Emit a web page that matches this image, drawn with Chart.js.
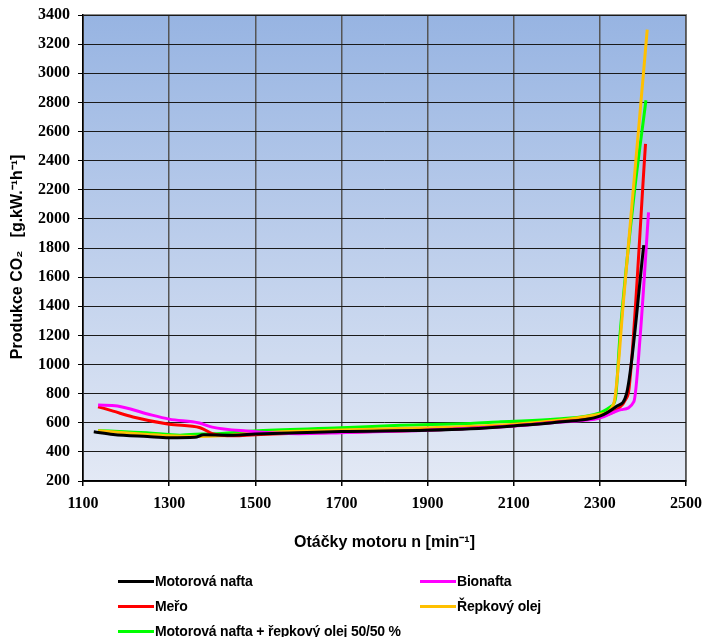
<!DOCTYPE html>
<html>
<head>
<meta charset="utf-8">
<script src="https://cdn.jsdelivr.net/npm/chart.js@4/dist/chart.umd.min.js"></script>
<style>
  html, body { margin: 0; padding: 0; background: #fff; }
  #wrap { position: relative; width: 704px; height: 637px; }
  .leg { position: absolute; font: bold 14px "Liberation Sans", Arial, sans-serif; color: #000;
         letter-spacing: -0.2px; white-space: nowrap; line-height: 16px; }
  .leg i { display: inline-block; width: 36px; height: 3px; vertical-align: middle; margin-right: 1px; margin-top: -2px; }
</style>
</head>
<body>
<div id="wrap">
  <canvas id="c" width="704" height="637"></canvas>
  <div class="leg" style="left:118px; top:573px"><i style="background:#000000"></i>Motorová nafta</div>
  <div class="leg" style="left:420px; top:573px"><i style="background:#ff00ff"></i>Bionafta</div>
  <div class="leg" style="left:118px; top:598px"><i style="background:#ff0000"></i>Meřo</div>
  <div class="leg" style="left:420px; top:598px"><i style="background:#ffc000"></i>Řepkový olej</div>
  <div class="leg" style="left:118px; top:623px"><i style="background:#00ff00"></i>Motorová nafta + řepkový olej 50/50 %</div>
</div>
<script>
// engine speed [min-1] and CO2 production [g/kWh] per fuel
const naftaX = [1125, 1170, 1250, 1300, 1360, 1380, 1450, 1500, 1700, 1900, 2000, 2100, 2200, 2300, 2340, 2362, 2402];
const naftaY = [538, 520, 505, 497, 500, 518, 515, 522, 540, 548, 558, 578, 603, 645, 715, 800, 1820];

const bioX = [1135, 1180, 1250, 1300, 1370, 1400, 1480, 1600, 1700, 1900, 2100, 2200, 2300, 2350, 2379, 2394, 2413];
const bioY = [722, 715, 660, 625, 598, 570, 543, 525, 532, 548, 578, 603, 632, 690, 745, 1210, 2045];

const meroX = [1135, 1170, 1216, 1300, 1372, 1402, 1450, 1500, 1700, 1900, 2100, 2200, 2300, 2340, 2360, 2368, 2406];
const meroY = [710, 680, 640, 590, 566, 524, 510, 518, 535, 550, 580, 605, 640, 690, 760, 840, 2515];

const repkaX = [1135, 1250, 1300, 1370, 1420, 1500, 1700, 1900, 2100, 2200, 2300, 2332, 2355, 2410];
const repkaY = [545, 520, 510, 505, 510, 530, 550, 565, 590, 615, 658, 730, 1440, 3300];

const smesX = [1135, 1248, 1325, 1350, 1402, 1495, 1700, 1836, 2000, 2070, 2200, 2300, 2325, 2336, 2347, 2378, 2407];
const smesY = [547, 531, 515, 520, 524, 543, 565, 582, 595, 607, 625, 668, 710, 763, 1211, 2128, 2815];

const xTicks = [1100, 1300, 1500, 1700, 1900, 2100, 2300, 2500];
const yMin = 200, yMax = 3400, yStep = 200;

const pts = (xs, ys) => xs.map((x, i) => ({ x, y: ys[i] }));

const series = [
  { label: 'Motorová nafta', data: pts(naftaX, naftaY), color: '#000000' },
  { label: 'Bionafta', data: pts(bioX, bioY), color: '#ff00ff' },
  { label: 'Meřo', data: pts(meroX, meroY), color: '#ff0000' },
  { label: 'Řepkový olej', data: pts(repkaX, repkaY), color: '#ffc000' },
  { label: 'Motorová nafta + řepkový olej 50/50 %', data: pts(smesX, smesY), color: '#00ff00' }
];

const plotBackground = {
  id: 'plotBackground',
  beforeDraw(chart) {
    const { ctx, chartArea: a } = chart;
    const g = ctx.createLinearGradient(0, a.top, 0, a.bottom);
    g.addColorStop(0, '#97b4e2');
    g.addColorStop(1, '#e3e9f5');
    ctx.save();
    ctx.fillStyle = g;
    ctx.fillRect(a.left, a.top, a.width, a.height);
    ctx.strokeStyle = '#8a8a8a';
    ctx.lineWidth = 2;
    ctx.strokeRect(a.left, a.top, a.width, a.height);
    ctx.restore();
  }
};

const tickFont = { family: '"Liberation Serif", "Times New Roman", serif', size: 16, weight: 'bold' };
const titleFont = { family: '"Liberation Sans", Arial, sans-serif', size: 16, weight: 'bold' };

new Chart(document.getElementById('c'), {
  type: 'line',
  data: {
    datasets: series.map(s => ({
      label: s.label,
      data: s.data,
      borderColor: s.color,
      backgroundColor: s.color,
      borderWidth: 3,
      pointRadius: 0,
      cubicInterpolationMode: 'monotone',
      fill: false
    }))
  },
  options: {
    responsive: false,
    animation: false,
    layout: { padding: { left: 0, right: 18, top: 15, bottom: 81 } },
    plugins: {
      legend: { display: false },
      tooltip: { enabled: false }
    },
    scales: {
      x: {
        type: 'linear',
        min: 1100,
        max: 2500,
        afterBuildTicks: s => { s.ticks = xTicks.map(v => ({ value: v })); },
        afterFit: s => { s.height = 75; s.paddingLeft = 0; s.paddingRight = 0; },
        grid: { color: '#555555', lineWidth: 1.5, tickLength: 5, tickColor: '#000' },
        border: { color: '#000', width: 1.5 },
        ticks: {
          color: '#000',
          padding: 8,
          maxRotation: 0,
          callback: v => String(v),
          font: tickFont
        },
        title: {
          display: true,
          text: 'Otáčky motoru n [min⁻¹]',
          color: '#000',
          padding: { top: 16 },
          font: titleFont
        }
      },
      y: {
        min: yMin,
        max: yMax,
        afterFit: s => { s.width = 83; s.paddingTop = 0; s.paddingBottom = 0; },
        grid: { color: '#1a1a1a', lineWidth: 1, tickLength: 5, tickColor: '#000' },
        border: { color: '#000', width: 1.5 },
        ticks: {
          stepSize: yStep,
          color: '#000',
          padding: 8,
          callback: v => String(v),
          font: tickFont
        },
        title: {
          display: true,
          text: 'Produkce CO₂   [g.kW.⁻¹h⁻¹]    ',
          color: '#000',
          padding: { top: 8, bottom: 0 },
          font: titleFont
        }
      }
    }
  },
  plugins: [plotBackground]
});
</script>
</body>
</html>
